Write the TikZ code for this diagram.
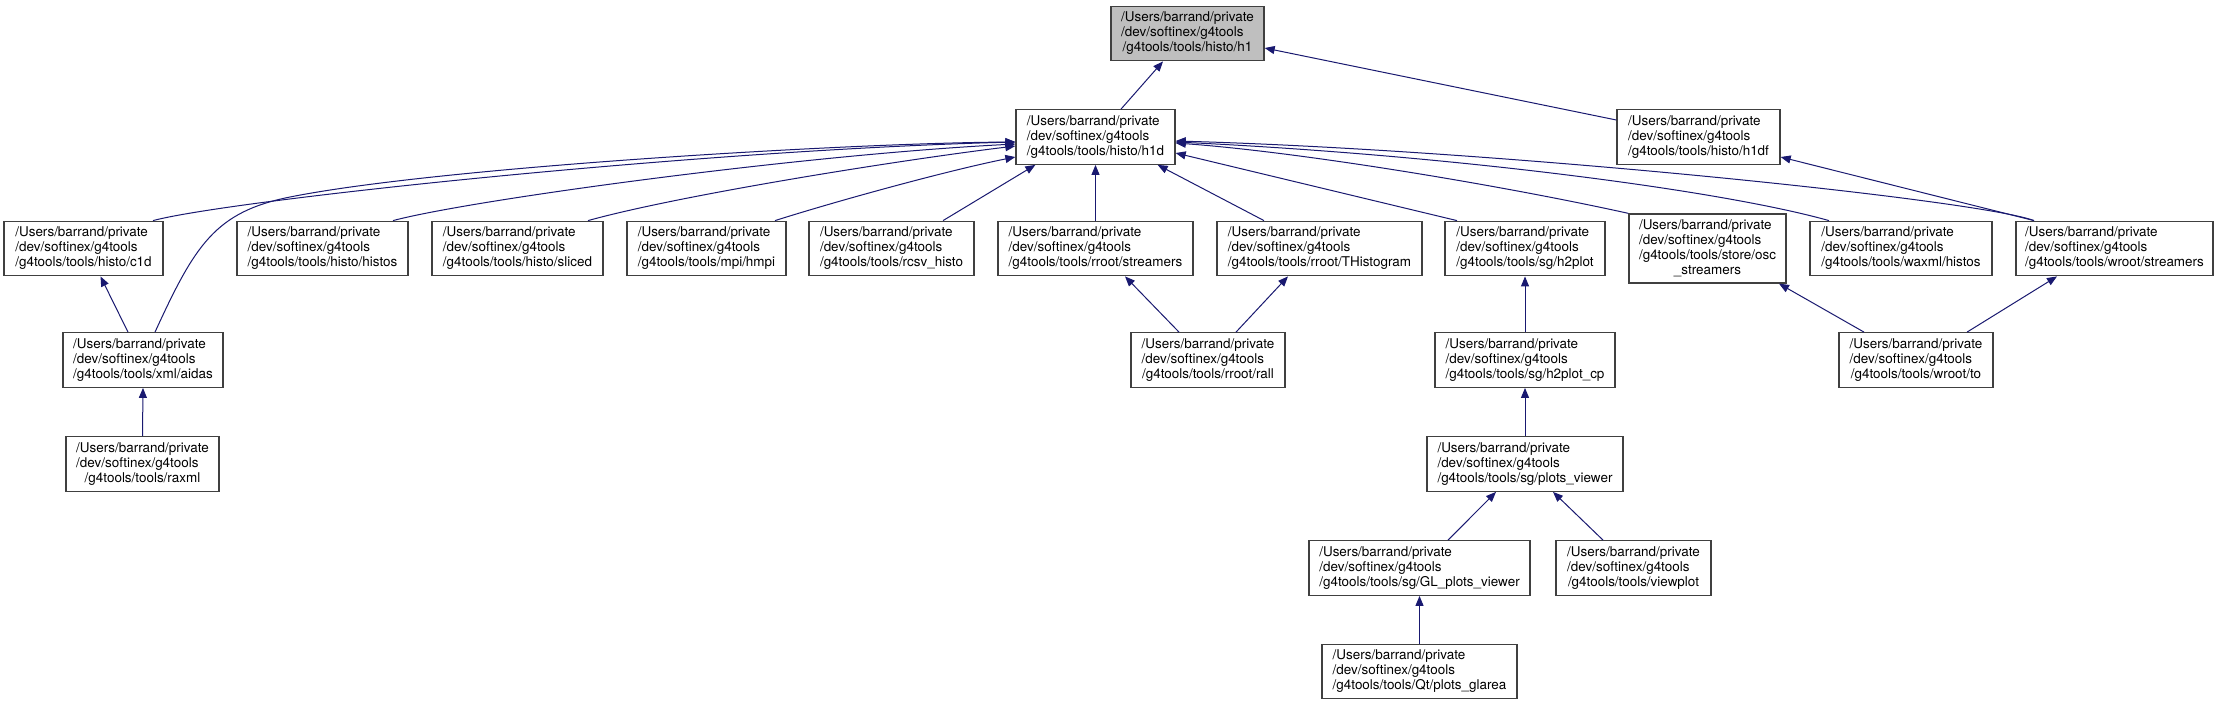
\documentclass[tikz,border=0pt]{standalone}
\usepackage{fontspec}
\setmainfont{TeX Gyre Heros}
\usetikzlibrary{arrows.meta,calc}
\definecolor{edgeblue}{HTML}{191970}
\definecolor{nodegray}{HTML}{BFBFBF}
\definecolor{borderc}{HTML}{404040}
\newcommand{\boxtext}[2]{\begin{tabular}{@{}l@{}}/Users/barrand/private\\/dev/softinex/g4tools\\#1\multicolumn{1}{@{}c@{}}{#2}\end{tabular}}
\tikzset{
  box/.style={draw=borderc, line width=1.3pt, fill=white, align=center, inner sep=0pt,
    font=\fontsize{13.45}{15}\selectfont, minimum height=54.5pt},
  edge/.style={draw=edgeblue, line width=1pt, -{Triangle[length=10pt,width=8pt]}}
}
\begin{document}
\begin{tikzpicture}[x=1pt,y=-1pt]
\useasboundingbox[fill=white] (0,0) rectangle (2221,705);
% rank 0
\node[box, fill=nodegray, minimum width=153pt] (h1) at (1187.5,33.5) {\boxtext{}{/g4tools/tools/histo/h1}};
% rank 1
\node[box, minimum width=159pt] (h1d) at (1095.5,137) {\boxtext{}{/g4tools/tools/histo/h1d}};
\node[box, minimum width=163pt] (h1df) at (1698.5,137) {\boxtext{}{/g4tools/tools/histo/h1df}};
% rank 2
\node[box, minimum width=159pt] (c1d) at (83.5,248.5) {\boxtext{}{/g4tools/tools/histo/c1d}};
\node[box, minimum width=171pt] (histos) at (322.5,248.5) {\boxtext{}{/g4tools/tools/histo/histos}};
\node[box, minimum width=171pt] (sliced) at (517.5,248.5) {\boxtext{}{/g4tools/tools/histo/sliced}};
\node[box, minimum width=159pt] (hmpi) at (706.5,248.5) {\boxtext{}{/g4tools/tools/mpi/hmpi}};
\node[box, minimum width=165pt] (rcsv) at (891.5,248.5) {\boxtext{}{/g4tools/tools/rcsv\_histo}};
\node[box, minimum width=195pt] (rstream) at (1095.5,248.5) {\boxtext{}{/g4tools/tools/rroot/streamers}};
\node[box, minimum width=205pt] (THist) at (1319.5,248.5) {\boxtext{}{/g4tools/tools/rroot/THistogram}};
\node[box, minimum width=160pt] (h2plot) at (1525,248.5) {\boxtext{}{/g4tools/tools/sg/h2plot}};
\node[box, minimum width=157pt, minimum height=69pt] (osc) at (1707.5,248.5) {\boxtext{/g4tools/tools/store/osc\\}{\_streamers}};
\node[box, minimum width=182pt] (waxml) at (1901,248.5) {\boxtext{}{/g4tools/tools/waxml/histos}};
\node[box, minimum width=197pt] (wstream) at (2114.5,248.5) {\boxtext{}{/g4tools/tools/wroot/streamers}};
% rank 3
\node[box, minimum width=160pt] (aidas) at (143,360) {\boxtext{}{/g4tools/tools/xml/aidas}};
\node[box, minimum width=154pt] (rall) at (1208,360) {\boxtext{}{/g4tools/tools/rroot/rall}};
\node[box, minimum width=180pt] (h2plotcp) at (1525,360) {\boxtext{}{/g4tools/tools/sg/h2plot\_cp}};
\node[box, minimum width=154pt] (wto) at (1916,360) {\boxtext{}{/g4tools/tools/wroot/to}};
% rank 4
\node[box, minimum width=153pt] (raxml) at (142.5,464) {\boxtext{}{/g4tools/tools/raxml}};
\node[box, minimum width=196pt] (pviewer) at (1525,464) {\boxtext{}{/g4tools/tools/sg/plots\_viewer}};
% rank 5
\node[box, minimum width=221pt] (GL) at (1419.5,568) {\boxtext{}{/g4tools/tools/sg/GL\_plots\_viewer}};
\node[box, minimum width=155pt] (viewplot) at (1633.5,568) {\boxtext{}{/g4tools/tools/viewplot}};
% rank 6
\node[box, minimum width=195pt] (glarea) at (1419.5,671.5) {\boxtext{}{/g4tools/tools/Qt/plots\_glarea}};

% edges
\draw[edge] ($(h1d.north)+(25.5,0)$) -- ($(h1.south)+(-24.5,0)$);
\draw[edge] ($(h1df.west)+(0,-17)$) -- ($(h1.east)+(0,14.5)$);
\draw[edge] ($(c1d.north)+(69.5,0)$) .. controls (230,200) and (700,150) .. ($(h1d.west)+(0,5)$);
\draw[edge] ($(aidas.north)+(12,0)$) .. controls (195,245) and (215,212) .. (290,197) .. controls (440,167) and (850,143) .. ($(h1d.west)+(0,5)$);
\draw[edge] ($(histos.north)+(70.5,0)$) .. controls (470,200) and (800,155) .. ($(h1d.west)+(0,7)$);
\draw[edge] ($(sliced.north)+(70.5,0)$) .. controls (680,195) and (900,160) .. ($(h1d.west)+(0,9)$);
\draw[edge] ($(hmpi.north)+(68.5,0)$) .. controls (840,200) and (950,170) .. ($(h1d.west)+(0,20)$);
\draw[edge] ($(rcsv.north)+(51.5,0)$) -- ($(h1d.south west)+(20,0)$);
\draw[edge] (rstream.north) -- (h1d.south);
\draw[edge] ($(THist.north)+(-55.5,0)$) -- ($(h1d.south east)+(-18,0)$);
\draw[edge] ($(h2plot.north)+(-68,0)$) -- ($(h1d.east)+(0,16)$);
\draw[edge] (osc.north west) .. controls (1500,185) and (1300,152) .. ($(h1d.east)+(0,6)$);
\draw[edge] ($(waxml.north)+(-72,0)$) .. controls (1720,190) and (1450,155) .. ($(h1d.east)+(0,5)$);
\draw[edge] ($(wstream.north)+(-80.5,0)$) .. controls (1980,200) and (1500,150) .. ($(h1d.east)+(0,4)$);
\draw[edge] ($(wstream.north)+(-80.5,0)$) -- ($(h1df.east)+(0,20)$);
\draw[edge] ($(aidas.north)+(-15,0)$) -- ($(c1d.south)+(17,0)$);
\draw[edge] (raxml.north) -- (aidas.south);
\draw[edge] ($(rall.north)+(-29,0)$) -- ($(rstream.south)+(29.5,0)$);
\draw[edge] ($(rall.north)+(28,0)$) -- ($(THist.south)+(-31.5,0)$);
\draw[edge] (h2plotcp.north) -- (h2plot.south);
\draw[edge] ($(wto.north)+(-52,0)$) -- ($(osc.south)+(71.5,0)$);
\draw[edge] ($(wto.north)+(51,0)$) -- ($(wstream.south)+(-57.5,0)$);
\draw[edge] (pviewer.north) -- (h2plotcp.south);
\draw[edge] ($(GL.north)+(28.5,0)$) -- ($(pviewer.south)+(-29,0)$);
\draw[edge] ($(viewplot.north)+(-30.5,0)$) -- ($(pviewer.south)+(28,0)$);
\draw[edge] (glarea.north) -- (GL.south);
\end{tikzpicture}
\end{document}
